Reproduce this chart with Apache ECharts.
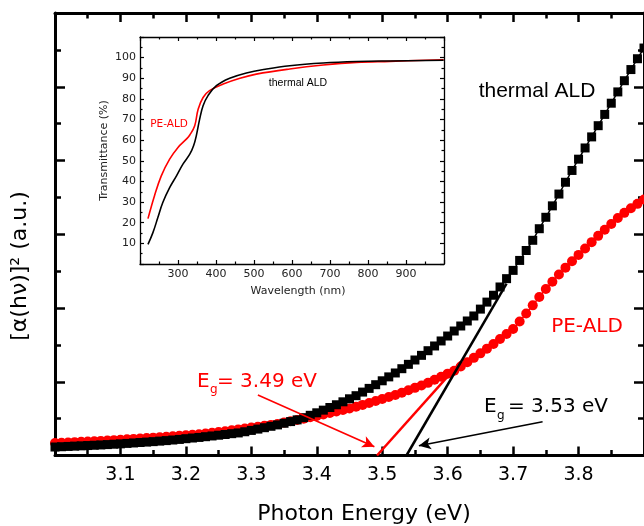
<!DOCTYPE html>
<html>
<head>
<meta charset="utf-8">
<script src="https://cdn.jsdelivr.net/npm/echarts@6/dist/echarts.min.js"></script>
<style>html,body{margin:0;padding:0;background:#fff;}#chart{width:644px;height:526px;}</style>
</head>
<body>
<div id="chart"></div>
<script>
// ---- Main plot data: Tauc plot [α(hν)]² vs photon energy ----
const energy = [3.00,3.01,3.02,3.03,3.04,3.05,3.06,3.07,3.08,3.09,3.10,3.11,3.12,3.13,3.14,3.15,3.16,3.17,3.18,3.19,
3.20,3.21,3.22,3.23,3.24,3.25,3.26,3.27,3.28,3.29,3.30,3.31,3.32,3.33,3.34,3.35,3.36,3.37,3.38,3.39,
3.40,3.41,3.42,3.43,3.44,3.45,3.46,3.47,3.48,3.49,3.50,3.51,3.52,3.53,3.54,3.55,3.56,3.57,3.58,3.59,
3.60,3.61,3.62,3.63,3.64,3.65,3.66,3.67,3.68,3.69,3.70,3.71,3.72,3.73,3.74,3.75,3.76,3.77,3.78,3.79,
3.80,3.81,3.82,3.83,3.84,3.85,3.86,3.87,3.88,3.89,3.90];
const thermalALD = [0.115,0.119,0.123,0.127,0.131,0.135,0.139,0.143,0.148,0.153,0.158,0.164,0.170,0.176,0.182,0.188,0.195,0.202,0.210,0.218,
0.228,0.237,0.245,0.255,0.265,0.275,0.285,0.296,0.306,0.322,0.340,0.358,0.377,0.396,0.415,0.437,0.460,0.483,0.513,0.545,
0.579,0.615,0.651,0.688,0.728,0.769,0.811,0.860,0.910,0.960,1.013,1.066,1.119,1.177,1.236,1.295,1.358,1.421,1.485,1.553,
1.620,1.688,1.756,1.824,1.892,1.985,2.080,2.173,2.285,2.398,2.510,2.645,2.780,2.918,3.075,3.230,3.385,3.545,3.705,3.865,
4.018,4.170,4.320,4.472,4.625,4.777,4.930,5.082,5.233,5.380,5.525];
const peALD = [0.169,0.173,0.177,0.181,0.185,0.189,0.194,0.198,0.203,0.208,0.214,0.219,0.225,0.230,0.236,0.242,0.248,0.254,0.261,0.268,
0.275,0.281,0.287,0.297,0.308,0.319,0.330,0.341,0.354,0.366,0.378,0.391,0.403,0.415,0.428,0.446,0.464,0.482,0.500,0.518,
0.537,0.557,0.577,0.597,0.617,0.638,0.660,0.686,0.713,0.740,0.767,0.793,0.820,0.852,0.884,0.917,0.950,0.985,1.026,1.068,
1.110,1.150,1.206,1.265,1.324,1.385,1.449,1.512,1.580,1.648,1.716,1.818,1.926,2.036,2.149,2.257,2.357,2.455,2.547,2.635,
2.720,2.806,2.893,2.978,3.060,3.140,3.220,3.290,3.352,3.412,3.470];
// linear fits (band-gap extrapolation)
const thermalFitE = [3.537, 3.690];
const thermalFitY = [0, 2.33];
const peFitE = [3.492, 3.620];
const peFitY = [0, 1.27];
// annotation arrows [start, end] in data units
const peArrow = [[3.310, 0.820], [3.488, 0.119]];
const thermalArrow = [[3.745, 0.458], [3.556, 0.133]];
const xTickLabels = ['3.1','3.2','3.3','3.4','3.5','3.6','3.7','3.8'];

// ---- Inset data: transmittance vs wavelength ----
const insetThermalNm = [221,234,247,260,278,296,313,331,341,348,357,366,379,401,436,480,533,594,682,770,858,999];
const insetThermalT = [9.5,15.2,22.5,29.8,37,42.7,48.4,53.2,57.3,62,70.2,76.7,81.6,86.4,90,92.6,94.5,96.1,97.4,98.1,98.4,98.7];
const insetPeNm = [221,238,256,278,300,322,331,344,353,366,383,419,463,506,594,682,770,858,999];
const insetPeT = [22,33,42.7,50.8,56.5,60.5,62.5,67,75,80.7,84,87.2,90,92,94.5,96.4,97.7,98.2,99];

const RED = '#ff0000';
const chart = echarts.init(document.getElementById('chart'), null, {renderer: 'canvas'});
const FONT = 'DejaVu Sans';

function mainX(pos, showLabels) {
  return {
    type: 'value', gridIndex: 0, position: pos, min: 3.0, max: 3.9, interval: 0.1,
    axisLine: {show: true, onZero: false, lineStyle: {color: '#000', width: 3}},
    axisTick: {show: true, inside: true, length: 9, lineStyle: {color: '#000', width: 2.5}},
    minorTick: {show: true, splitNumber: 2, length: 5.5, lineStyle: {color: '#000', width: 2.5}},
    splitLine: {show: false},
    axisLabel: {show: showLabels, showMinLabel: false, showMaxLabel: false, margin: 10,
      fontFamily: FONT, fontSize: 19, color: '#000',
      formatter: v => { const s = v.toFixed(1); return xTickLabels.indexOf(s) >= 0 ? s : ''; }}
  };
}
function mainY(pos) {
  return {
    type: 'value', gridIndex: 0, position: pos, min: 0, max: 6, interval: 1,
    axisLine: {show: true, onZero: false, lineStyle: {color: '#000', width: 3}},
    axisTick: {show: true, inside: true, length: 10, lineStyle: {color: '#000', width: 2.5}},
    minorTick: {show: true, splitNumber: 2, length: 6, lineStyle: {color: '#000', width: 2.5}},
    splitLine: {show: false}, axisLabel: {show: false}
  };
}
function insetX(pos, showLabels) {
  return {
    type: 'value', gridIndex: 1, position: pos, min: 200, max: 1000, interval: 100,
    name: showLabels ? 'Wavelength (nm)' : '', nameLocation: 'middle', nameGap: 22,
    nameTextStyle: {fontFamily: FONT, fontSize: 11, color: '#222', padding: [0, 0, 0, 12]},
    axisLine: {show: true, onZero: false, lineStyle: {color: '#000', width: 1.3}},
    axisTick: {show: true, inside: true, length: 4, lineStyle: {color: '#000', width: 1.2}},
    minorTick: {show: true, splitNumber: 2, length: 2.5, lineStyle: {color: '#000', width: 1.2}},
    splitLine: {show: false},
    axisLabel: {show: showLabels, showMinLabel: false, showMaxLabel: false, margin: 5,
      fontFamily: FONT, fontSize: 11, color: '#222'}
  };
}
function insetY(pos, showLabels) {
  return {
    type: 'value', gridIndex: 1, position: pos, min: 0, max: 110, interval: 10,
    name: showLabels ? 'Transmittance (%)' : '', nameLocation: 'middle', nameGap: 30,
    nameTextStyle: {fontFamily: FONT, fontSize: 11, color: '#222'},
    axisLine: {show: true, onZero: false, lineStyle: {color: '#000', width: 1.3}},
    axisTick: {show: true, inside: true, length: 4, lineStyle: {color: '#000', width: 1.2}},
    minorTick: {show: true, splitNumber: 2, length: 2.5, lineStyle: {color: '#000', width: 1.2}},
    splitLine: {show: false},
    axisLabel: {show: showLabels, showMinLabel: false, showMaxLabel: false, margin: 4,
      fontFamily: FONT, fontSize: 11, color: '#222'}
  };
}

const zip = (a, b) => a.map((v, i) => [v, b[i]]);

const option = {
  animation: false,
  backgroundColor: '#fff',
  grid: [
    {left: 55, right: -8, top: 13, bottom: 70.5},
    {left: 140, right: 200, top: 37, bottom: 262, backgroundColor: '#fff', show: true, borderWidth: 0}
  ],
  xAxis: [mainX('bottom', true), mainX('top', false), insetX('bottom', true), insetX('top', false)],
  yAxis: [mainY('left'), mainY('right'), insetY('left', true), insetY('right', false)],
  series: [
    {type: 'line', name: 'PE-ALD', xAxisIndex: 0, yAxisIndex: 0, data: zip(energy, peALD),
      symbol: 'circle', symbolSize: 10, showAllSymbol: true, itemStyle: {color: RED},
      lineStyle: {color: RED, width: 1.5}, z: 2},
    {type: 'line', name: 'thermal ALD', xAxisIndex: 0, yAxisIndex: 0, data: zip(energy, thermalALD),
      symbol: 'rect', symbolSize: 9, showAllSymbol: true, itemStyle: {color: '#000'},
      lineStyle: {color: '#000', width: 1.5}, z: 3},
    {type: 'line', xAxisIndex: 0, yAxisIndex: 0, data: zip(peFitE, peFitY), symbol: 'none',
      lineStyle: {color: RED, width: 2.5}, z: 4,
      markLine: {silent: true, symbol: ['none', 'arrow'], symbolSize: [9, 12], label: {show: false},
        lineStyle: {color: RED, width: 1.6, type: 'solid'},
        data: [[{coord: peArrow[0]}, {coord: peArrow[1]}]]}},
    {type: 'line', xAxisIndex: 0, yAxisIndex: 0, data: zip(thermalFitE, thermalFitY), symbol: 'none',
      lineStyle: {color: '#000', width: 2.5}, z: 4,
      markLine: {silent: true, symbol: ['none', 'arrow'], symbolSize: [9, 12], label: {show: false},
        lineStyle: {color: '#000', width: 1.6, type: 'solid'},
        data: [[{coord: thermalArrow[0]}, {coord: thermalArrow[1]}]]}},
    {type: 'line', xAxisIndex: 2, yAxisIndex: 2, data: zip(insetPeNm, insetPeT), symbol: 'none', smooth: 0.4,
      lineStyle: {color: RED, width: 1.6}, z: 10},
    {type: 'line', xAxisIndex: 2, yAxisIndex: 2, data: zip(insetThermalNm, insetThermalT), symbol: 'none', smooth: 0.4,
      lineStyle: {color: '#000', width: 1.6}, z: 11}
  ],
  graphic: [
    {type: 'text', x: 20, y: 266, rotation: Math.PI / 2,
      style: {text: '[α(hν)]² (a.u.)', fontFamily: FONT, fontSize: 22, fill: '#000', align: 'center', verticalAlign: 'middle'}},
    {type: 'text', x: 364, y: 514,
      style: {text: 'Photon Energy (eV)', fontFamily: FONT, fontSize: 22, fill: '#000', align: 'center', verticalAlign: 'middle'}},
    {type: 'text', x: 537, y: 91,
      style: {text: 'thermal ALD', fontFamily: 'Liberation Sans', fontSize: 21, fill: '#000', align: 'center', verticalAlign: 'middle'}},
    {type: 'text', x: 587, y: 327,
      style: {text: 'PE-ALD', fontFamily: FONT, fontSize: 20, fill: RED, align: 'center', verticalAlign: 'middle'}},
    // red E_g label
    {type: 'text', x: 197, y: 382, style: {text: 'E', fontFamily: FONT, fontSize: 20, fill: RED, align: 'left', verticalAlign: 'middle'}},
    {type: 'text', x: 210, y: 390, style: {text: 'g', fontFamily: FONT, fontSize: 12, fill: RED, align: 'left', verticalAlign: 'middle'}},
    {type: 'text', x: 217, y: 382, style: {text: '= 3.49 eV', fontFamily: FONT, fontSize: 20, fill: RED, align: 'left', verticalAlign: 'middle'}},
    // black E_g label
    {type: 'text', x: 484, y: 407, style: {text: 'E', fontFamily: FONT, fontSize: 20, fill: '#000', align: 'left', verticalAlign: 'middle'}},
    {type: 'text', x: 497, y: 416, style: {text: 'g', fontFamily: FONT, fontSize: 12, fill: '#000', align: 'left', verticalAlign: 'middle'}},
    {type: 'text', x: 508, y: 407, style: {text: '= 3.53 eV', fontFamily: FONT, fontSize: 20, fill: '#000', align: 'left', verticalAlign: 'middle'}},
    // inset annotations
    {type: 'text', x: 298, y: 83, z: 20, style: {text: 'thermal ALD', fontFamily: 'Liberation Sans', fontSize: 10.5, fill: '#000', align: 'center', verticalAlign: 'middle'}},
    {type: 'text', x: 169, y: 124, z: 20, style: {text: 'PE-ALD', fontFamily: FONT, fontSize: 10.5, fill: RED, align: 'center', verticalAlign: 'middle'}}
  ]
};
chart.setOption(option);
</script>
</body>
</html>
